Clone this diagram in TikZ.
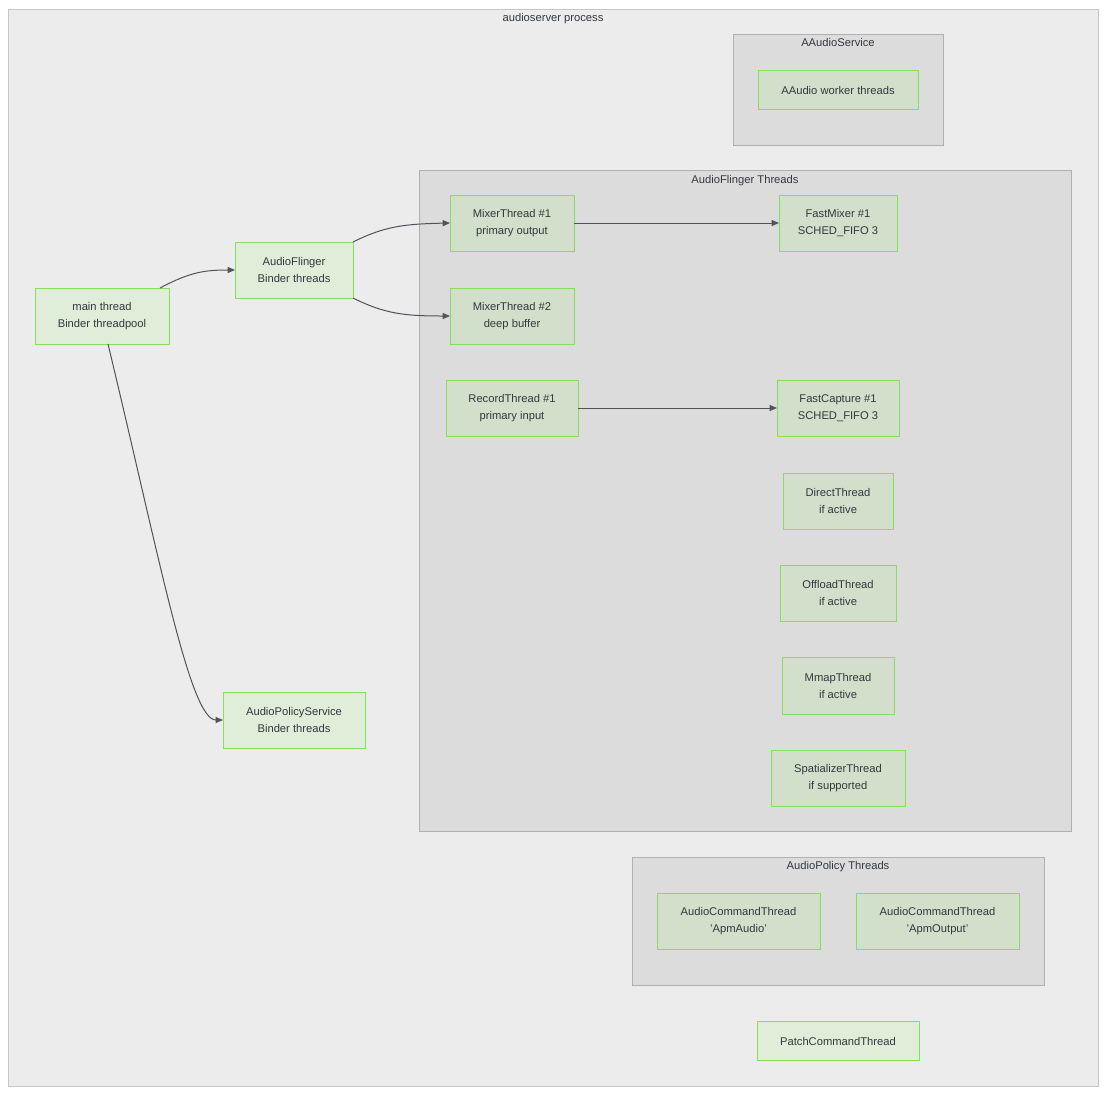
\documentclass[tikz,border=0pt]{standalone}
\usepackage{fontspec}
\setmainfont{Liberation Sans}
\usetikzlibrary{arrows.meta}
\definecolor{outerfill}{HTML}{ECECEC}
\definecolor{outerline}{HTML}{C6C6C6}
\definecolor{clfill}{HTML}{DCDCDC}
\definecolor{clline}{HTML}{B0B0B0}
\definecolor{nfill}{HTML}{DFEDD9}
\definecolor{infill}{HTML}{D2DFCA}
\definecolor{nline}{HTML}{85DE5E}
\definecolor{txt}{HTML}{333840}
\definecolor{edge}{HTML}{4F545C}
\newcommand{\bnode}[7]{\node[#6, minimum width={(#4-#2)*0.75pt}, minimum height={(#5-#3)*0.75pt}] (#1) at ({(#2+#4)/2},{(#3+#5)/2}) {#7};}
\newcommand{\cl}[6]{\draw[#6] (#2,#3) rectangle (#4,#5); \coordinate (#1) at ({(#2+#4)/2},#3);}
\tikzset{
  every node/.style={font=\fontsize{8.4pt}{12.75pt}\selectfont, text=txt},
  nodebox/.style={draw=nline, fill=nfill, line width=0.75pt, inner sep=0pt, outer sep=0pt, align=center},
  innerbox/.style={nodebox, fill=infill},
  outerbox/.style={draw=outerline, fill=outerfill, line width=0.75pt},
  clusterbox/.style={draw=clline, fill=clfill, line width=0.75pt},
  ctitle/.style={anchor=north, inner sep=0pt},
  conn/.style={draw=edge, line width=0.75pt, -{Triangle[length=5.5pt,width=4.5pt]}}
}
\begin{document}
\begin{tikzpicture}[x=0.75pt,y=-0.75pt]
\useasboundingbox (0,0) rectangle (1108,1097);
% outer
\cl{outer}{8}{9}{1098}{1086}{outerbox}
\node[ctitle] (tOuter) at (553,13) {audioserver process};
% AAudioService
\cl{aas}{733}{34}{943}{145}{clusterbox}
\node[ctitle] (tAAS) at (838,38) {AAudioService};
\draw[draw=nline, fill=infill, line width=0.75pt] (758,70) rectangle (918,109);
\node[inner sep=0pt] (aaw) at (838,90) {AAudio worker threads};
% AudioFlinger Threads
\cl{aft}{419}{170}{1071}{831}{clusterbox}
\node[ctitle] (tAFT) at (745,175) {AudioFlinger Threads};
\bnode{m1}{450}{195}{574}{251}{innerbox}{MixerThread \#1\\primary output}
\bnode{fm}{779}{195}{897}{251}{innerbox}{FastMixer \#1\\SCHED\_FIFO 3}
\bnode{m2}{450}{288}{574}{344}{innerbox}{MixerThread \#2\\deep buffer}
\bnode{rt}{446}{380}{578}{436}{innerbox}{RecordThread \#1\\primary input}
\bnode{fc}{777}{380}{899}{436}{innerbox}{FastCapture \#1\\SCHED\_FIFO 3}
\bnode{dt}{783}{473}{893}{529}{innerbox}{DirectThread\\if active}
\bnode{ot}{780}{565}{896}{621}{innerbox}{OffloadThread\\if active}
\bnode{mt}{782}{657}{894}{714}{innerbox}{MmapThread\\if active}
\bnode{st}{771}{750}{905}{806}{innerbox}{SpatializerThread\\if supported}
% AudioPolicy Threads
\cl{apt}{632}{857}{1044}{985}{clusterbox}
\node[ctitle] (tAPT) at (838,861) {AudioPolicy Threads};
\bnode{aca}{657}{893}{820}{949}{innerbox}{AudioCommandThread\\'ApmAudio'}
\bnode{aco}{856}{893}{1019}{949}{innerbox}{AudioCommandThread\\'ApmOutput'}
% top-level nodes
\draw[draw=nline, fill=nfill, line width=0.75pt] (757,1021) rectangle (919,1060);
\node[inner sep=0pt] (pct) at (838,1041.5) {PatchCommandThread};
\bnode{main}{35}{288}{169}{344}{nodebox}{main thread\\Binder threadpool}
\bnode{afb}{235}{242}{353}{298}{nodebox}{AudioFlinger\\Binder threads}
\bnode{aps}{223}{692}{365}{748}{nodebox}{AudioPolicyService\\Binder threads}
% connectors
\draw[conn] (160,0 |- main.north) .. controls (190,272) and (205,270) .. (afb.west);
\draw[conn] (afb.north east) .. controls (385,226) and (405,224) .. (m1.west);
\draw[conn] (afb.south east) .. controls (385,314) and (405,316) .. (m2.west);
\draw[conn] (m1.east) -- (fm.west);
\draw[conn] (rt.east) -- (fc.west);
\draw[conn] (108,0 |- main.south) .. controls (160,560) and (190,720) .. (aps.west);
\end{tikzpicture}
\end{document}
